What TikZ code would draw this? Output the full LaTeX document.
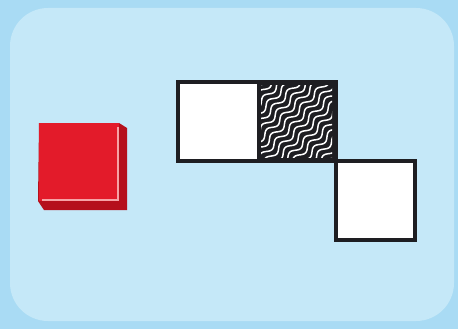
\documentclass[tikz,border=0pt]{standalone}
\usepackage{xcolor}
\usepackage{tikz}
\definecolor{sky}{HTML}{A9DBF4}
\definecolor{mist}{HTML}{C5E8F8}
\definecolor{tile}{HTML}{E31B2A}
\definecolor{tileside}{HTML}{B5101C}
\definecolor{tileshine}{HTML}{F6A3A6}
\definecolor{ink}{HTML}{1E1E22}

\begin{document}
\begin{tikzpicture}[x=1pt,y=-1pt,line join=miter]
  \useasboundingbox (0,0) rectangle (458,329);
  \fill[sky] (0,0) rectangle (458,329);
  \fill[mist,rounded corners=38pt] (10,8) rectangle (454,321);
  % red tile
  \fill[tileside] (119,123) -- (127,128) -- (127,210) -- (44,210) -- (38,201) -- (39,123) -- cycle;
  \fill[tile] (39,123) rectangle (119,201);
  \draw[tileshine,line width=1.2pt] (118,127) -- (118,200) -- (42,200);
  % grid cells
  \fill[white] (178,82) rectangle (257,161);
  \fill[ink] (257,82) rectangle (336,161);
  \begin{scope}
    \clip (261,86) rectangle (332,157);
    \begin{scope}[shift={(296.5,121.5)},rotate=45]
      \foreach \k in {-58.5,-52,...,58.5}
        \draw[white,line width=1.5pt] plot[domain=-60:60,samples=80,smooth] (\x,{\k+2.6*sin(\x*17)});
    \end{scope}
  \end{scope}
  \fill[white] (336,161) rectangle (415,240);
  \draw[ink,line width=4.5pt] (178,82) rectangle (336,161);
  \draw[ink,line width=4.5pt] (336,161) rectangle (415,240);
\end{tikzpicture}
\end{document}
